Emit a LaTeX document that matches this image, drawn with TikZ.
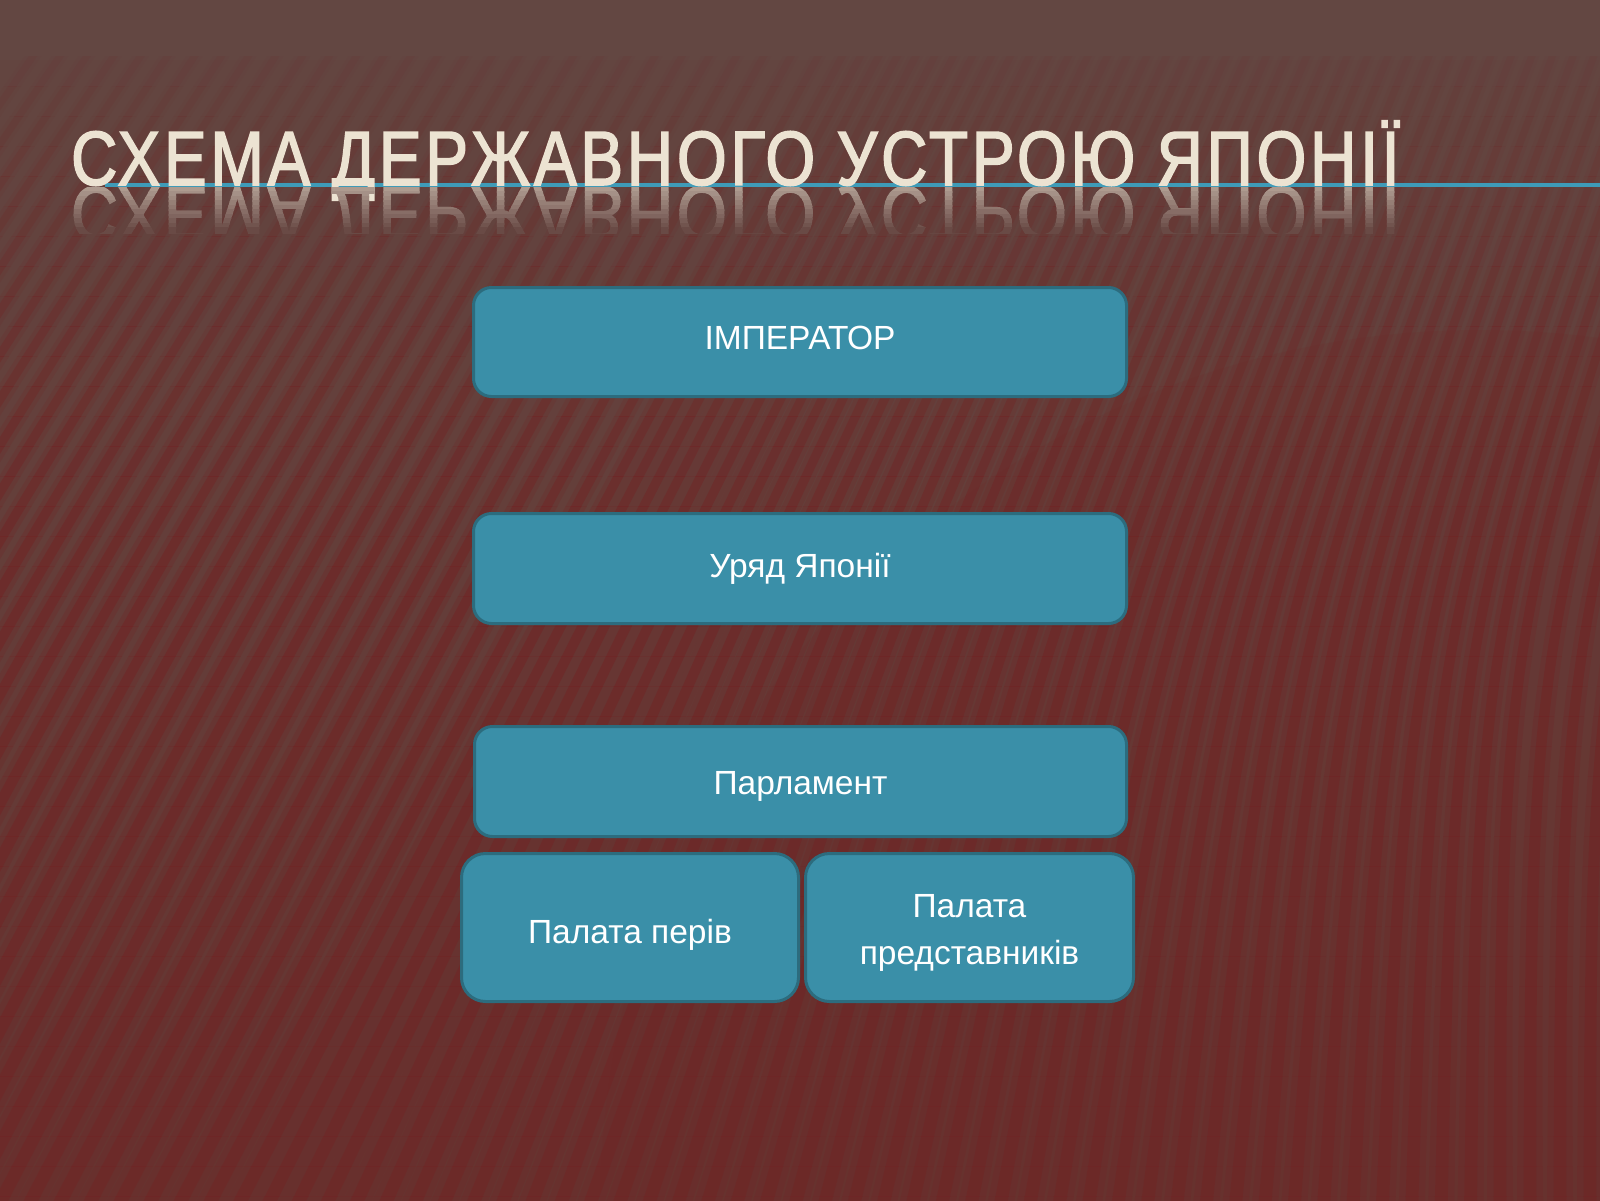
\documentclass[tikz,border=0pt]{standalone}
\usepackage{fontspec}
\setmainfont{Liberation Sans}
\newfontfamily\titlefont[FakeStretch=0.83,FakeBold=2,LetterSpace=5]{Liberation Sans}
\newfontfamily\boxfont{Liberation Sans}
\definecolor{bgbrown}{RGB}{99,71,66}
\definecolor{bgred}{RGB}{104,44,41}
\definecolor{stripered}{RGB}{112,38,38}
\definecolor{reflbg}{RGB}{98,66,62}
\definecolor{boxfill}{RGB}{58,143,168}
\definecolor{boxline}{RGB}{44,108,126}
\definecolor{titlecol}{RGB}{236,227,210}
\definecolor{rulecol}{RGB}{62,155,184}
\tikzset{
  box/.style={draw=boxline, line width=3pt, fill=boxfill, rounded corners=18pt,
    text=white, font=\boxfont\fontsize{33.5pt}{47pt}\selectfont, align=center,
    inner sep=0pt, text height=24pt, text depth=6pt},
  titletext/.style={text=titlecol, font=\titlefont\fontsize{77pt}{80pt}\selectfont,
    inner sep=0pt, anchor=base west}
}
\begin{document}
\begin{tikzpicture}[x=1pt,y=-1pt]
\useasboundingbox (0,0) rectangle (1600,1200);
% background
\fill[bgbrown] (-10,-10) rectangle (1610,1230);
\foreach \b in {0,...,38} {
  \pgfmathsetmacro\yt{60+30*\b}
  \pgfmathsetmacro\yb{\yt+30}
  \pgfmathsetmacro\op{0.05+0.65*\b/38}
  \fill[bgred, opacity=\op] (-10,\yt) rectangle (1610,\yb);
}
\foreach \b in {0,...,38} {
  \pgfmathsetmacro\yt{56+30*\b}
  \pgfmathsetmacro\yb{\yt+30}
  \pgfmathsetmacro\op{min(0.6,0.08+1.2*\b/38)}
  \pgfmathsetmacro\lw{7+6*\b/38}
  \pgfmathsetmacro\lww{2*\lw}
  \pgfmathsetmacro\opw{0.45*\op}
  \begin{scope}
    \clip (-10,\yt) rectangle (1610,\yb);
    \draw[stripered, line width=\lww pt, opacity=\opw]
      \foreach \x [evaluate=\x as \tb using {max(0,min(30,0.0230769*(1500-\x)))},
                   evaluate=\x as \tt using {30-\x/140},
                   evaluate=\x as \bx using {\x+570*tan(\tb)},
                   evaluate=\x as \cx using {\x+570*tan(\tb)+580*tan(\tt)}]
        in {-690,-660,...,1680} { (\x,1260) .. controls (\bx,630) .. (\cx,40) };
    \draw[stripered, line width=\lw pt, opacity=\op]
      \foreach \x [evaluate=\x as \tb using {max(0,min(30,0.0230769*(1500-\x)))},
                   evaluate=\x as \tt using {30-\x/140},
                   evaluate=\x as \bx using {\x+570*tan(\tb)},
                   evaluate=\x as \cx using {\x+570*tan(\tb)+580*tan(\tt)}]
        in {-690,-660,...,1680} { (\x,1260) .. controls (\bx,630) .. (\cx,40) };
  \end{scope}
}
\fill[stripered, opacity=0.14] (1480,1210) circle (880);
% title
\draw[rulecol, line width=3.5pt] (105,185) -- (1610,185);
\node[titletext] (title) at (71,185) {СХЕМА ДЕРЖАВНОГО УСТРОЮ ЯПОНІЇ};
\foreach \i in {0,...,9} {
  \pgfmathsetmacro\pc{int(55*(1-\i/10))}
  \begin{scope}
    \clip (0,187+4.5*\i) rectangle (1600,187+4.5*\i+5.5);
    \node[titletext, yscale=-1, text=titlecol!\pc!reflbg] (refl\i) at (71,187) {СХЕМА ДЕРЖАВНОГО УСТРОЮ ЯПОНІЇ};
  \end{scope}
}
% boxes
\node[box, minimum width=653pt, minimum height=109pt, text depth=10pt] (imp) at (800,342) {ІМПЕРАТОР};
\node[box, minimum width=653pt, minimum height=110pt] (uryad) at (800,568.5) {Уряд Японії};
\node[box, minimum width=652pt, minimum height=110pt, text height=31pt] (parl) at (800.5,781.5) {Парламент};
\node[box, rounded corners=24pt, minimum width=337pt, minimum height=148pt, text height=31pt, text depth=0pt] (periv) at (630,927.5) {Палата перів};
\node[box, rounded corners=24pt, minimum width=328pt, minimum height=148pt, text height=77pt, text depth=3pt] (pred) at (969.5,927.5) {Палата\\представників};
\end{tikzpicture}
\end{document}
